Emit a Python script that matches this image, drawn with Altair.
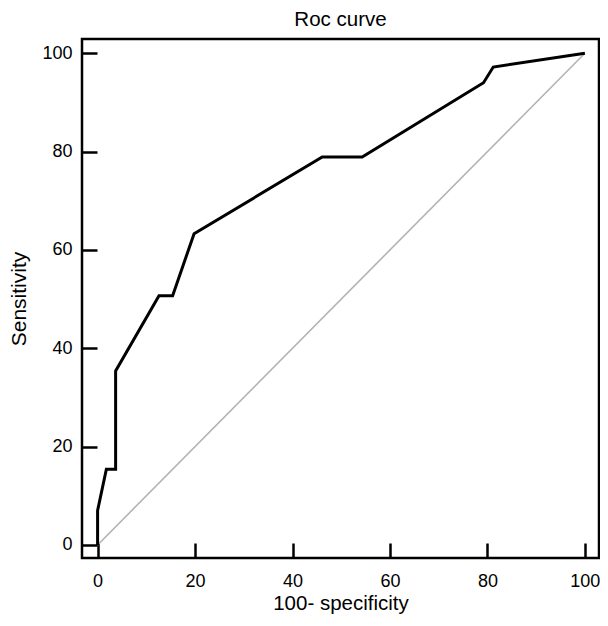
import altair as alt
import pandas as pd

# ROC curve points
fpr = [0, 0, 1.8, 3.7, 3.7, 12.6, 15.4, 19.8, 46.1, 54.3, 79.2, 81.2, 100]
tpr = [0, 7.0, 15.4, 15.4, 35.4, 50.7, 50.7, 63.3, 78.9, 78.9, 94.0, 97.2, 100]

diag_x = [0, 100]
diag_y = [0, 100]

tick_vals = [0, 20, 40, 60, 80, 100]

roc = pd.DataFrame({"x": fpr, "y": tpr, "o": list(range(len(fpr)))})
diag = pd.DataFrame({"x": diag_x, "y": diag_y, "o": [0, 1]})

FONT = "Liberation Sans"

xscale = alt.Scale(domain=[-3.2, 102.9], nice=False, zero=False)
yscale = alt.Scale(domain=[-2.65, 102.9], nice=False, zero=False)

xaxis = alt.Axis(values=tick_vals, title="100- specificity", grid=False, domain=False,
                 offset=-15, tickSize=15, tickWidth=2.5, tickColor="black",
                 labelPadding=14, labelFontSize=18, labelFont=FONT, labelColor="black",
                 titleFontSize=20.5, titleFont=FONT, titleFontWeight="normal",
                 titleColor="black", titlePadding=3)
yaxis = alt.Axis(values=tick_vals, title="Sensitivity", grid=False, domain=False,
                 offset=-15, tickSize=15, tickWidth=2.5, tickColor="black",
                 labelPadding=10, labelFontSize=18, labelFont=FONT, labelColor="black",
                 titleFontSize=21, titleFont=FONT, titleFontWeight="normal",
                 titleColor="black", titlePadding=12)

diag_line = alt.Chart(diag).mark_line(color="#b3b3b3", strokeWidth=1.6).encode(
    x=alt.X("x:Q", scale=xscale, axis=xaxis),
    y=alt.Y("y:Q", scale=yscale, axis=yaxis),
    order="o:Q",
)

roc_line = alt.Chart(roc).mark_line(color="black", strokeWidth=3, strokeJoin="miter").encode(
    x=alt.X("x:Q", scale=xscale),
    y=alt.Y("y:Q", scale=yscale),
    order="o:Q",
)

chart = alt.layer(diag_line, roc_line).properties(
    width=517,
    height=519,
    background="white",
    title=alt.TitleParams("Roc curve", fontSize=20.5, font=FONT, fontWeight="normal",
                          color="black", offset=9, anchor="middle"),
    autosize=alt.AutoSizeParams(type="none"),
    padding={"left": 74, "top": 31, "right": 1, "bottom": 60},
).configure_view(
    stroke="black", strokeWidth=2.5
)

chart.save("out.html", embed_options={"renderer": "svg", "actions": False})
